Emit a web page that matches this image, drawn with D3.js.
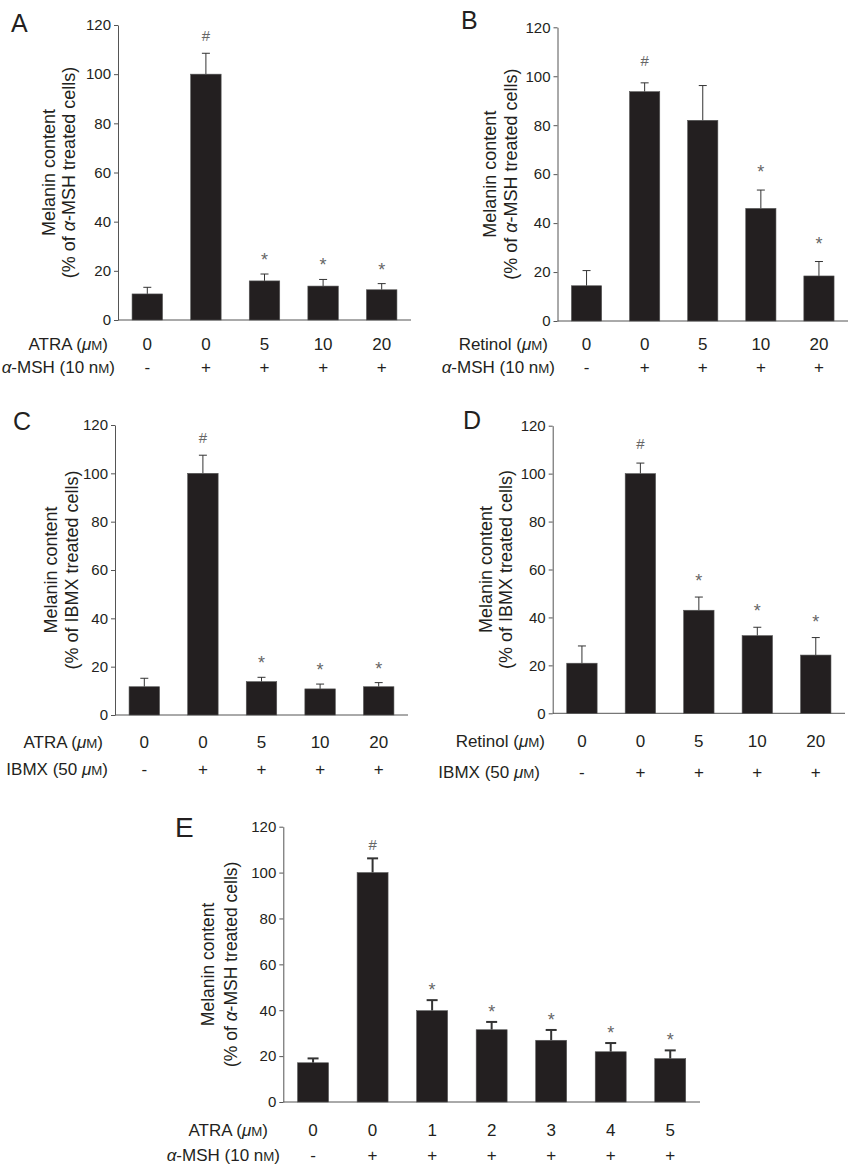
<!DOCTYPE html>
<html>
<head>
<meta charset="utf-8">
<script src="https://cdn.jsdelivr.net/npm/d3@7"></script>
<style>
  body { margin: 0; background: #fff; }
  text { font-family: "Liberation Sans", Arial, Helvetica, sans-serif; }
</style>
</head>
<body>
<svg id="chart"></svg>
<script>
// Chart data
const yTicks = [0, 20, 40, 60, 80, 100, 120];

// Panel A: ATRA + alpha-MSH
const doseA = ["0", "0", "5", "10", "20"];
const stimA = ["-", "+", "+", "+", "+"];
const meanA = [10.6, 100, 15.9, 13.8, 12.3];
const errA = [2.7, 8.5, 2.8, 2.7, 2.5];
const markA = ["", "#", "*", "*", "*"];

// Panel B: Retinol + alpha-MSH
const doseB = ["0", "0", "5", "10", "20"];
const stimB = ["-", "+", "+", "+", "+"];
const meanB = [14.4, 93.7, 82, 46, 18.4];
const errB = [6.2, 3.6, 14.2, 7.5, 5.9];
const markB = ["", "#", "", "*", "*"];

// Panel C: ATRA + IBMX
const doseC = ["0", "0", "5", "10", "20"];
const stimC = ["-", "+", "+", "+", "+"];
const meanC = [11.7, 100, 13.8, 10.8, 11.7];
const errC = [3.5, 7.5, 1.8, 2.0, 1.7];
const markC = ["", "#", "*", "*", "*"];

// Panel D: Retinol + IBMX
const doseD = ["0", "0", "5", "10", "20"];
const stimD = ["-", "+", "+", "+", "+"];
const meanD = [20.9, 100, 43, 32.4, 24.3];
const errD = [7.2, 4.4, 5.5, 3.5, 7.3];
const markD = ["", "#", "*", "*", "*"];

// Panel E: low-dose ATRA + alpha-MSH
const doseE = ["0", "0", "1", "2", "3", "4", "5"];
const stimE = ["-", "+", "+", "+", "+", "+", "+"];
const meanE = [17.1, 100, 39.8, 31.5, 26.9, 21.9, 18.9];
const errE = [1.9, 6.2, 4.6, 3.4, 4.5, 3.8, 3.6];
const markE = ["", "#", "*", "*", "*", "*", "*"];

// Text pieces: [text, style] where "i" = italic, "s" = small capital
const labelATRA = [["ATRA ("], ["\u03bc", "i"], ["M", "s"], [")"]];
const labelRetinol = [["Retinol ("], ["\u03bc", "i"], ["M", "s"], [")"]];
const labelMSH = [["\u03b1", "i"], ["-MSH (10 n"], ["M", "s"], [")"]];
const labelIBMX = [["IBMX (50 "], ["\u03bc", "i"], ["M", "s"], [")"]];
const titleMSH = [["(% of "], ["\u03b1", "i"], ["-MSH treated cells)"]];
const titleIBMX = [["(% of IBMX treated cells)"]];

const svgWidth = 850;
const svgHeight = 1171;
const svg = d3.select("#chart")
  .attr("width", svgWidth)
  .attr("height", svgHeight);

const barColor = "#231f20";
const axisColor = "#555";
const textColor = "#231f20";
const markColor = "#666";

// layout of each panel on the page
const panels = [
  { letter: "A", means: meanA, errs: errA, marks: markA, dose: doseA, stim: stimA,
    row1: labelATRA, row2: labelMSH, title: titleMSH,
    x0: 118, x1: 411, y0: 320, yTop: 25, letterPos: [11, 32], titleX: [49, 69],
    row1Pos: [108, 350], row2Pos: [115, 373], markOff: 18, cap: 8, errW: 1, font: 18 },
  { letter: "B", means: meanB, errs: errB, marks: markB, dose: doseB, stim: stimB,
    row1: labelRetinol, row2: labelMSH, title: titleMSH,
    x0: 557.5, x1: 848, y0: 321, yTop: 27.3, letterPos: [461, 29], titleX: [490, 511],
    row1Pos: [548, 350], row2Pos: [555, 373], markOff: 22, cap: 8, errW: 1, font: 18 },
  { letter: "C", means: meanC, errs: errC, marks: markC, dose: doseC, stim: stimC,
    row1: labelATRA, row2: labelIBMX, title: titleIBMX,
    x0: 115, x1: 408, y0: 715, yTop: 425, letterPos: [13, 430], titleX: [51, 72],
    row1Pos: [103, 748], row2Pos: [108, 775], markOff: 18, cap: 8, errW: 1, font: 18 },
  { letter: "D", means: meanD, errs: errD, marks: markD, dose: doseD, stim: stimD,
    row1: labelRetinol, row2: labelIBMX, title: titleIBMX,
    x0: 552.7, x1: 845, y0: 713.3, yTop: 425.7, letterPos: [463, 429], titleX: [486, 506],
    row1Pos: [545, 747], row2Pos: [540, 778], markOff: 20, cap: 8, errW: 1, font: 18 },
  { letter: "E", means: meanE, errs: errE, marks: markE, dose: doseE, stim: stimE,
    row1: labelATRA, row2: labelMSH, title: titleMSH,
    x0: 283.3, x1: 700, y0: 1102, yTop: 826.7, letterPos: [175, 837], titleX: [208, 231],
    row1Pos: [268, 1136], row2Pos: [280, 1161], markOff: 14, cap: 11, errW: 2, font: 17.5 }
];

// append text built from styled pieces
function richText(sel, pieces) {
  pieces.forEach(([t, style]) => {
    const span = sel.append("tspan").text(t);
    if (style === "i") span.attr("font-style", "italic");
    if (style === "s") span.attr("font-size", "0.78em");
  });
  return sel;
}

function drawPanel(p) {
  const n = p.means.length;
  const x = d3.scaleBand()
    .domain(d3.range(n))
    .range([p.x0, p.x1])
    .paddingInner(0.48)
    .paddingOuter(0.24);
  const y = d3.scaleLinear()
    .domain([0, 120])
    .range([p.y0, p.yTop]);

  const g = svg.append("g").attr("class", "panel");

  // y axis
  const yAxis = g.append("g")
    .attr("transform", `translate(${p.x0},0)`)
    .call(d3.axisLeft(y).tickValues(yTicks).tickSize(4).tickSizeOuter(0).tickPadding(3));
  yAxis.select(".domain").attr("stroke", axisColor);
  yAxis.selectAll(".tick line").attr("stroke", axisColor);
  yAxis.selectAll(".tick text")
    .attr("fill", textColor)
    .attr("font-size", 15)
    .attr("font-family", "Liberation Sans, Arial, sans-serif");

  // x baseline
  g.append("line")
    .attr("x1", p.x0)
    .attr("x2", p.x1)
    .attr("y1", p.y0)
    .attr("y2", p.y0)
    .attr("stroke", axisColor)
    .attr("stroke-width", 1);

  const cx = i => x(i) + x.bandwidth() / 2;

  // error bars (upper half only)
  const err = g.selectAll(".err")
    .data(p.means)
    .enter()
    .append("g")
    .attr("class", "err")
    .attr("stroke", "#333")
    .attr("stroke-width", p.errW);
  err.append("line")
    .attr("x1", (d, i) => cx(i))
    .attr("x2", (d, i) => cx(i))
    .attr("y1", d => y(d))
    .attr("y2", (d, i) => y(d + p.errs[i]));
  err.append("line")
    .attr("x1", (d, i) => cx(i) - p.cap / 2)
    .attr("x2", (d, i) => cx(i) + p.cap / 2)
    .attr("y1", (d, i) => y(d + p.errs[i]))
    .attr("y2", (d, i) => y(d + p.errs[i]));

  // bars
  g.selectAll(".bar")
    .data(p.means)
    .enter()
    .append("rect")
    .attr("class", "bar")
    .attr("x", (d, i) => x(i))
    .attr("y", d => y(d))
    .attr("width", x.bandwidth())
    .attr("height", d => p.y0 - y(d))
    .attr("fill", barColor)
    .attr("stroke", "#555")
    .attr("stroke-width", 0.6);

  // significance marks
  g.selectAll(".mark")
    .data(p.marks)
    .enter()
    .append("text")
    .attr("class", "mark")
    .attr("x", (d, i) => cx(i))
    .attr("y", (d, i) => {
      const top = y(p.means[i] + p.errs[i]) - p.markOff;
      return d === "#" ? top + 5.5 : top + 10;
    })
    .attr("text-anchor", "middle")
    .attr("font-size", d => d === "#" ? 15 : 18)
    .attr("fill", markColor)
    .text(d => d);

  // category rows
  g.selectAll(".dose")
    .data(p.dose)
    .enter()
    .append("text")
    .attr("x", (d, i) => cx(i))
    .attr("y", p.row1Pos[1])
    .attr("text-anchor", "middle")
    .attr("font-size", 17)
    .attr("fill", textColor)
    .text(d => d);
  g.selectAll(".stim")
    .data(p.stim)
    .enter()
    .append("text")
    .attr("x", (d, i) => cx(i))
    .attr("y", p.row2Pos[1])
    .attr("text-anchor", "middle")
    .attr("font-size", 17)
    .attr("fill", textColor)
    .text(d => d);

  richText(g.append("text")
    .attr("x", p.row1Pos[0])
    .attr("y", p.row1Pos[1])
    .attr("text-anchor", "end")
    .attr("font-size", 17)
    .attr("fill", textColor), p.row1);
  richText(g.append("text")
    .attr("x", p.row2Pos[0])
    .attr("y", p.row2Pos[1])
    .attr("text-anchor", "end")
    .attr("font-size", 17)
    .attr("fill", textColor), p.row2);

  // y axis title, two lines
  const cy = (p.y0 + p.yTop) / 2;
  g.append("text")
    .attr("transform", `translate(${p.titleX[0]},${cy}) rotate(-90)`)
    .attr("text-anchor", "middle")
    .attr("dy", "0.35em")
    .attr("font-size", p.font)
    .attr("fill", textColor)
    .text("Melanin content");
  richText(g.append("text")
    .attr("transform", `translate(${p.titleX[1]},${cy}) rotate(-90)`)
    .attr("text-anchor", "middle")
    .attr("dy", "0.35em")
    .attr("font-size", p.font)
    .attr("fill", textColor), p.title);

  // panel letter
  g.append("text")
    .attr("x", p.letterPos[0])
    .attr("y", p.letterPos[1])
    .attr("font-size", p.letter === "E" ? 28 : 25)
    .attr("fill", textColor)
    .text(p.letter);
}

panels.forEach(drawPanel);
</script>
</body>
</html>
